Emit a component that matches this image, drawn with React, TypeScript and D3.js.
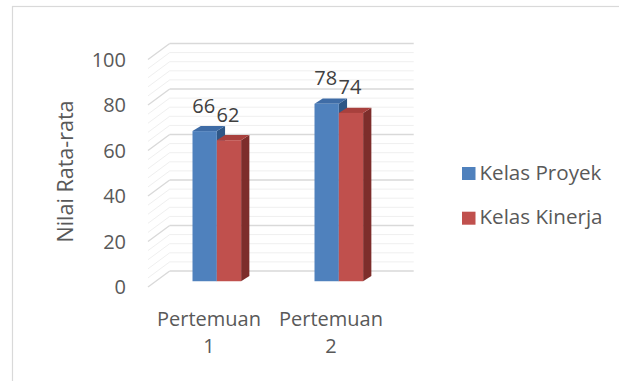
import React from "react";
import * as d3 from "d3";

// Chart data
const categories = ["Pertemuan 1", "Pertemuan 2"];
const seriesNames = ["Kelas Proyek", "Kelas Kinerja"];
const kelasProyek = [66, 78];
const kelasKinerja = [62, 74];
const yTicks = [0, 20, 40, 60, 80, 100];

const W = 619;
const H = 381;
const FONT = "'Open Sans', Lato, sans-serif";
const TEXT = "#595959";

// Oblique 3D projection: depth 0 is the front plane, 1 the back wall
const DX = 21.7;
const DY = 16;
const proj = (x: number, y: number, d: number): [number, number] => [x + d * DX, y - d * DY];

const colors = [
  { front: "#4f81bd", top: "#3f6ca6", side: "#2f5786" },
  { front: "#c0504d", top: "#a8403d", side: "#7d2d2b" },
];

export default function App() {
  const y = d3.scaleLinear().domain([0, 100]).range([287, 59.5]);
  const x0 = d3
    .scaleBand<string>()
    .domain(categories)
    .range([148, 392])
    .paddingInner(0.6016)
    .paddingOuter(0.3008);
  const x1 = d3.scaleBand<string>().domain(seriesNames).range([0, x0.bandwidth()]);
  const values = [kelasProyek, kelasKinerja];

  const grid = d3.range(0, 101, 4);
  const fx0 = 148;
  const bx0 = 148 + DX;
  const bx1 = 392 + DX;

  const barFront = 0.36;
  const barDepth = 0.38;
  const bdx = barDepth * DX;
  const bdy = barDepth * DY * 0.85;

  const bars: React.ReactNode[] = [];
  const labels: React.ReactNode[] = [];
  categories.forEach((cat, ci) => {
    seriesNames.forEach((s, si) => {
      const v = values[si][ci];
      const [xl, yt] = proj(x0(cat)! + x1(s)!, y(v), barFront);
      const [, yb] = proj(0, y(0), barFront);
      const xr = xl + x1.bandwidth();
      const c = colors[si];
      bars.push(
        <g key={`${ci}-${si}`}>
          <polygon
            points={`${xr},${yt} ${xr + bdx},${yt - bdy} ${xr + bdx},${yb - bdy} ${xr},${yb}`}
            fill={c.side}
          />
          <polygon
            points={`${xl},${yt} ${xl + bdx},${yt - bdy} ${xr + bdx},${yt - bdy} ${xr},${yt}`}
            fill={c.top}
          />
          <rect x={xl} y={yt} width={xr - xl} height={yb - yt} fill={c.front} />
        </g>
      );
      labels.push(
        <text
          key={`l${ci}-${si}`}
          x={(xl + xr) / 2 - 1}
          y={yt - 18.5}
          textAnchor="middle"
          fontSize={20}
          fill="#404040"
        >
          {v}
        </text>
      );
    });
  });

  return (
    <svg
      width={W}
      height={H}
      style={{ position: "absolute", left: 0, top: 0, background: "#fff" }}
      fontFamily={FONT}
    >
      <rect x={12.5} y={6.5} width={W + 20} height={H + 20} fill="#fff" stroke="#d9d9d9" strokeWidth={1.2} />

      {/* back wall and side wall gridlines */}
      {grid.map((v) => {
        const major = v % 20 === 0;
        const [sx, sy] = proj(fx0, y(v), 0);
        const [ex, ey] = proj(fx0, y(v), 1);
        return (
          <g key={v} stroke={major ? "#d9d9d9" : "#efefef"} strokeWidth={major ? 1.4 : 1}>
            <line x1={sx} y1={sy} x2={ex} y2={ey} />
            <line x1={bx0} y1={ey} x2={bx1} y2={ey} />
          </g>
        );
      })}

      {bars}
      {labels}

      {/* value axis */}
      {yTicks.map((t) => (
        <text key={t} x={126} y={y(t)} dy="0.35em" textAnchor="end" fontSize={20} fill={TEXT}>
          {t}
        </text>
      ))}
      <text
        transform={`translate(72.5,171.5) rotate(-90)`}
        textAnchor="middle"
        fontSize={21.5}
        fill={TEXT}
      >
        Nilai Rata-rata
      </text>

      {/* category axis */}
      {categories.map((cat) => {
        const cx = x0(cat)! + x0.bandwidth() / 2;
        const parts = cat.split(" ");
        return (
          <text key={cat} textAnchor="middle" fontSize={20} fill={TEXT}>
            <tspan x={cx} y={325.7}>{parts[0]}</tspan>
            <tspan x={cx} y={353}>{parts[1]}</tspan>
          </text>
        );
      })}

      {/* legend */}
      {seriesNames.map((s, i) => (
        <g key={s} transform={`translate(0, ${i * 44.7})`}>
          <rect x={462} y={167} width={13.5} height={13} fill={colors[i].front} />
          <text x={479.5} y={179.6} fontSize={20.6} fill={TEXT}>
            {s}
          </text>
        </g>
      ))}
    </svg>
  );
}
